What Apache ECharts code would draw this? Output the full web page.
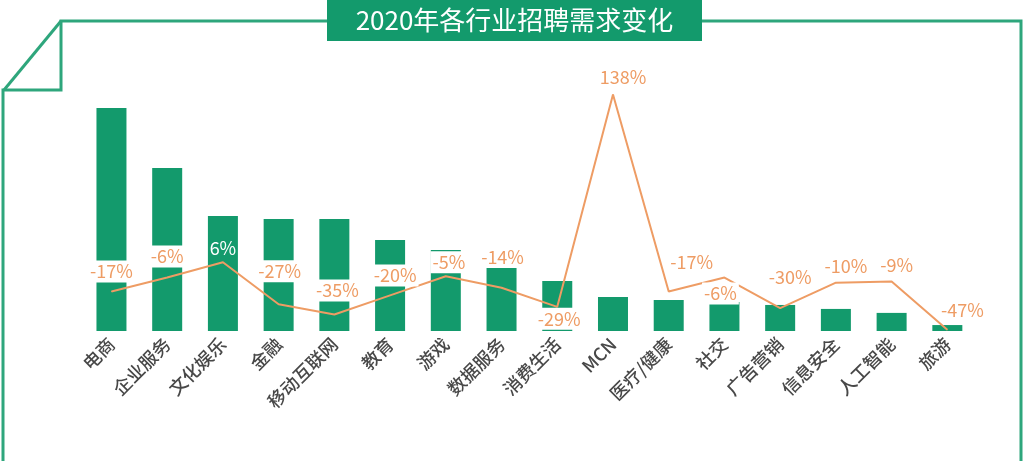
<!DOCTYPE html>
<html>
<head>
<meta charset="utf-8">
<script src="https://cdn.jsdelivr.net/npm/echarts@6/dist/echarts.min.js"></script>
<style>
  html, body { margin: 0; padding: 0; background: #fff; }
  #main { width: 1024px; height: 461px; }
</style>
</head>
<body>
<div id="main"></div>
<script>
  // 行业
  var categories = ['电商', '企业服务', '文化娱乐', '金融', '移动互联网', '教育', '游戏', '数据服务',
    '消费生活', 'MCN', '医疗/健康', '社交', '广告营销', '信息安全', '人工智能', '旅游'];
  // 招聘需求占比（柱高，估读）
  var demand = [89.9, 65.7, 46.4, 45.2, 45.2, 36.7, 32.7, 25.4, 20.2, 13.7, 12.5, 11.7, 10.5, 8.9, 7.3, 2.4];
  // 同比变化 %
  var change = [-17, -6, 6, -27, -35, -20, -5, -14, -29, 138, -17, -6, -30, -10, -9, -47];
  // 标签微调（相对数据点的偏移）
  var labelOffset = [[0, -20], [0, -21], [0, -14], [1, -33], [3, -24], [5, -20], [3, -14], [1, -31],
    [2, 12], [10, -17], [23, -29], [-4, 16], [10, -31], [10, -17], [5, -16], [15, -20]];

  var green = '#139a6c';
  var frame = '#2ea67c';
  var orange = '#ee9c64';

  var myChart = echarts.init(document.getElementById('main'));

  var lineData = change.map(function (v, i) {
    var item = {
      value: v,
      label: { offset: labelOffset[i] }
    };
    if (v > 0 && v < 10) {
      // 6% 写在柱子里面，白字
      item.label.color = '#fff';
      item.label.backgroundColor = 'transparent';
    }
    return item;
  });

  var option = {
    backgroundColor: '#fff',
    animation: false,
    grid: { left: 83.6, right: 48.8, top: 83, bottom: 130 },
    xAxis: {
      type: 'category',
      data: categories,
      axisLine: { show: false },
      axisTick: { show: false },
      axisLabel: {
        rotate: 45,
        interval: 0,
        margin: 10,
        fontSize: 18,
        fontWeight: 500,
        color: '#484848',
        fontFamily: 'Noto Sans CJK SC'
      }
    },
    yAxis: [
      { type: 'value', min: 0, max: 100, show: false },
      { type: 'value', min: -48, max: 147, show: false }
    ],
    series: [
      {
        type: 'bar',
        data: demand,
        barWidth: 30,
        itemStyle: { color: green },
        z: 1
      },
      {
        type: 'line',
        yAxisIndex: 1,
        data: lineData,
        symbol: 'circle',
        symbolSize: 1,
        showSymbol: true,
        itemStyle: { color: orange },
        lineStyle: { color: orange, width: 2 },
        z: 3,
        label: {
          show: true,
          position: 'inside',
          formatter: '{c}%',
          fontSize: 18,
          color: orange,
          fontFamily: 'Noto Sans CJK SC',
          backgroundColor: '#fff',
          padding: [2, 2]
        }
      }
    ],
    graphic: [
      {
        type: 'polyline',
        shape: { points: [[3, 461], [3, 90], [61, 90], [61, 21], [1021, 21], [1021, 461]] },
        style: { stroke: frame, lineWidth: 3, fill: null }
      },
      {
        type: 'line',
        shape: { x1: 4, y1: 90, x2: 61, y2: 21 },
        style: { stroke: frame, lineWidth: 3 }
      },
      {
        type: 'rect',
        shape: { x: 327, y: 0, width: 375, height: 41 },
        style: { fill: green }
      },
      {
        type: 'text',
        x: 514.5,
        y: 20.5,
        style: {
          text: '2020年各行业招聘需求变化',
          fill: '#fff',
          fontSize: 26,
          fontFamily: 'Noto Sans CJK SC',
          align: 'center',
          verticalAlign: 'middle'
        }
      }
    ]
  };
  myChart.setOption(option);
</script>
</body>
</html>
